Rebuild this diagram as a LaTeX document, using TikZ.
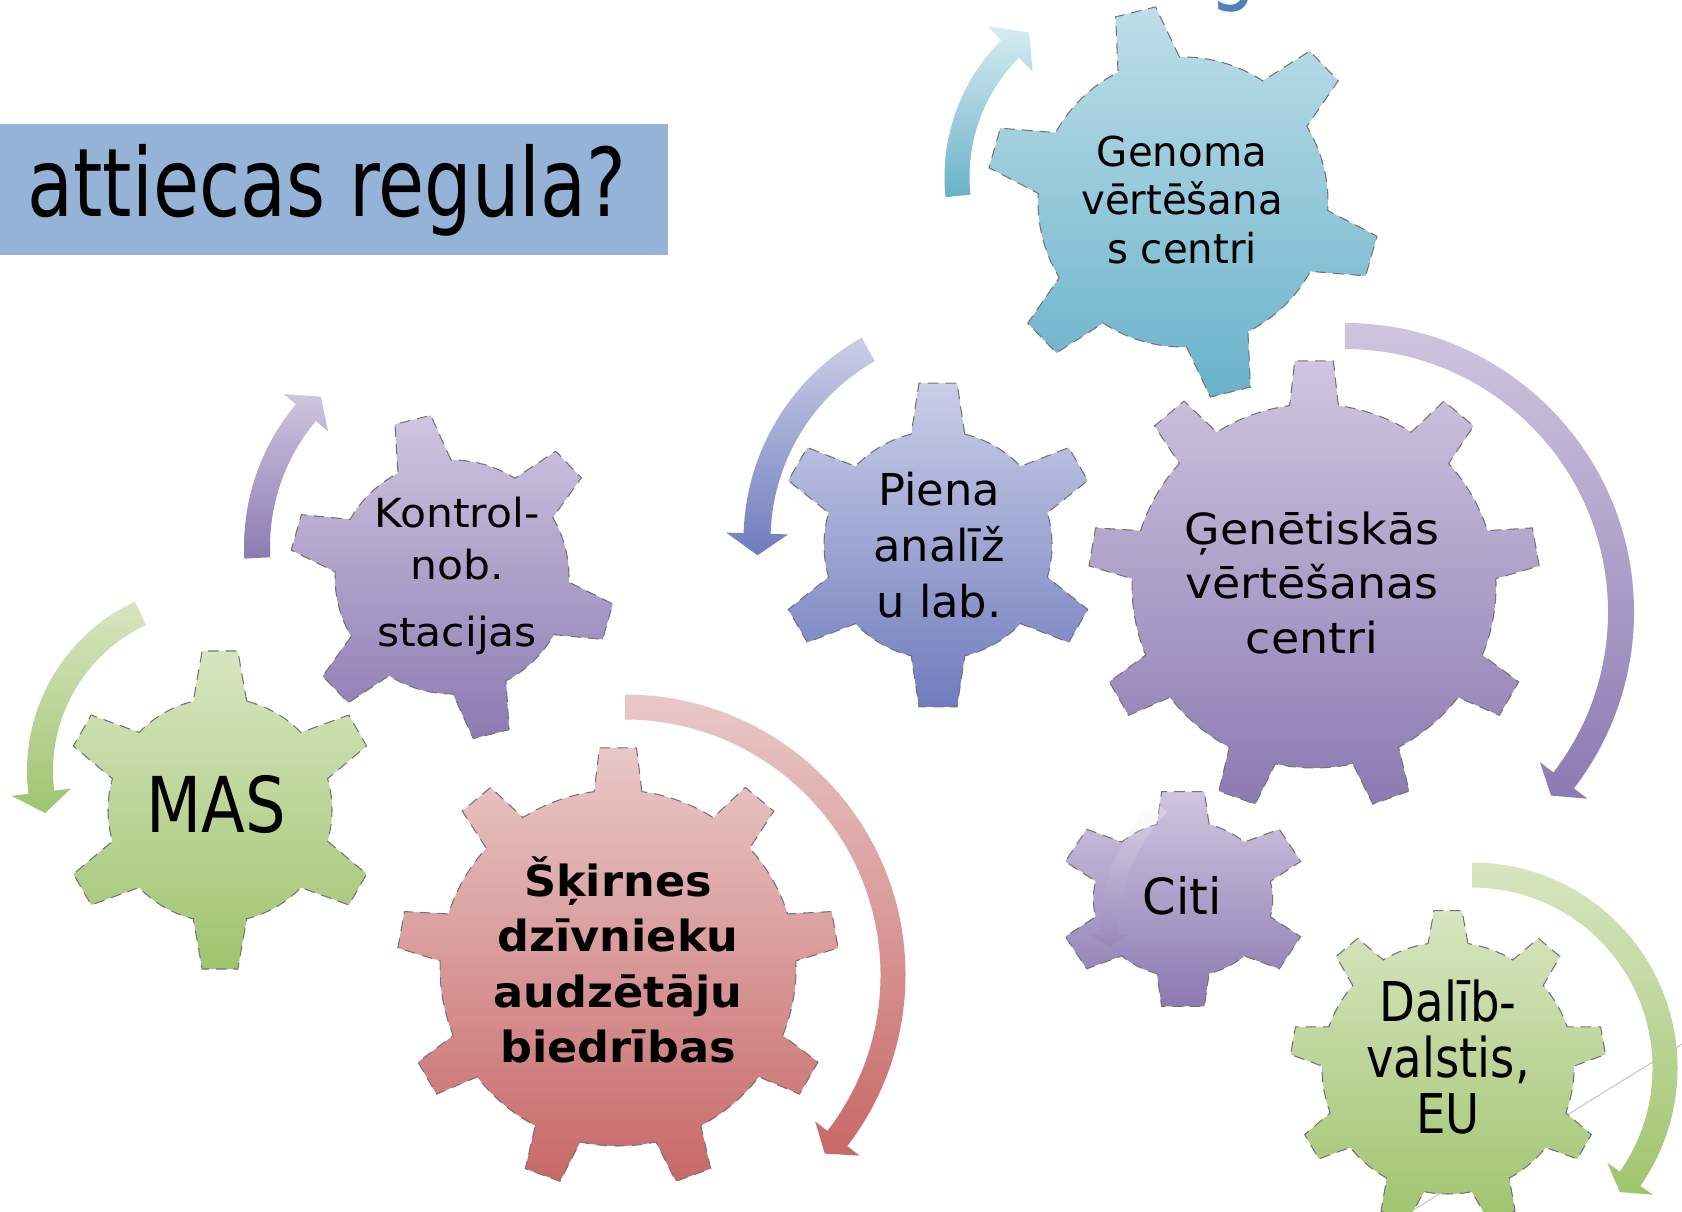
\documentclass[tikz,border=0pt]{standalone}
\usepackage{fontspec}
\setmainfont{DejaVu Sans}
\usepackage{tikz}

\definecolor{titlebg}{RGB}{149,179,215}
\definecolor{headblue}{RGB}{79,129,189}
\definecolor{tealtop}{RGB}{190,222,232}
\definecolor{tealbot}{RGB}{105,178,202}
\definecolor{lilactop}{RGB}{206,198,223}
\definecolor{lilacbot}{RGB}{140,122,178}
\definecolor{greentop}{RGB}{216,229,192}
\definecolor{greenbot}{RGB}{160,196,110}
\definecolor{bluetop}{RGB}{202,206,230}
\definecolor{bluebot}{RGB}{112,124,190}
\definecolor{rosetop}{RGB}{233,200,200}
\definecolor{rosebot}{RGB}{200,104,104}

\newcommand{\drawgear}[8]{%
	\shadedraw[gearline, shift={(#1)}, #8] ({#5-#7}:#3)
		\foreach \k [evaluate=\k as \a using #5+(\k-1)*360/#2,
					evaluate=\k as \s using #5+(\k-1)*360/#2+#7,
					evaluate=\k as \e using #5+\k*360/#2-#7] in {1,...,#2}
		{ -- ({\a-#7}:#3) -- ({\a-#6}:#4) -- ({\a+#6}:#4) -- ({\a+#7}:#3)
			arc[start angle=\s, end angle=\e, radius=#3] } -- cycle;}

\newcommand{\drawturn}[8]{%
	\shade[shift={(#1)}, #8] ({#3}:{#2+#6}) arc[start angle=#3, end angle=#4, radius=#2+#6]
		-- ({#4}:{#2+#7}) -- ({#5}:{#2}) -- ({#4}:{#2-#7}) -- ({#4}:{#2-#6})
		arc[start angle=#4, end angle=#3, radius=#2-#6] -- cycle;}

\begin{document}
\begin{tikzpicture}[x=0.1mm, y=0.1mm,
		gearline/.style={draw=black!55, line width=0.3pt, densely dashed},
		geartext/.style={align=center, inner sep=0pt, transform shape}]
		\useasboundingbox (0,0) rectangle (1682,-1212);
		\clip (0,0) rectangle (1682,-1212);

		\draw[black!22, line width=0.3pt] (1410,-1212) -- (1682,-1044);

		\fill[titlebg] (0,-124) rectangle (668,-255);
		\node[anchor=base west, inner sep=0pt, xscale=0.79, transform shape, font=\fontsize{27}{30}\selectfont] (title) at (27,-217) {attiecas regula?};
		\node[anchor=base, inner sep=0pt, xscale=0.79, transform shape, text=headblue, font=\fontsize{27}{30}\selectfont] (topg) at (1233,7) {g};

		\drawgear{1183,-202}{6}{145}{197}{104}{6}{12.6}{top color=tealtop, bottom color=tealbot}
		\drawgear{452,-577}{6}{117}{163}{104}{6.5}{13.5}{top color=lilactop, bottom color=lilacbot}
		\drawgear{220,-810}{6}{112}{160}{90}{6.4}{13.8}{top color=greentop, bottom color=greenbot}
		\drawgear{938,-545}{6}{114}{163}{90}{6.7}{13.6}{top color=bluetop, bottom color=bluebot}
		\drawgear{1314,-586}{9}{182}{226}{90}{4.9}{7.7}{top color=lilactop, bottom color=lilacbot}
		\drawgear{618,-968}{9}{178}{221}{90}{4.8}{7.7}{top color=rosetop, bottom color=rosebot}
		\drawgear{1183,-899}{6}{78}{109}{90}{9.8}{16.9}{top color=lilactop, bottom color=lilacbot, xscale=1.15}
		\drawgear{1448,-1068}{9}{126}{158}{90}{5.1}{9.1}{top color=greentop, bottom color=greenbot}

		\drawturn{1138,-177}{181}{186}{135}{127}{12.5}{32}{top color=tealtop!60!white, bottom color=tealbot}
		\drawturn{466,-547}{209}{183}{140}{134}{13}{29}{top color=lilactop, bottom color=lilacbot}
		\drawturn{214,-771}{174}{115}{187}{194}{13}{30}{top color=greentop, bottom color=greenbot}
		\drawturn{976,-540}{219}{119.5}{178.3}{184}{13.5}{31}{top color=bluetop, bottom color=bluebot}
		\drawturn{1345,-612}{276}{90}{-37.6}{-41.7}{13}{30}{top color=lilactop, bottom color=lilacbot}
		\drawturn{625,-975}{268}{90}{-37.6}{-41.8}{12.5}{28}{top color=rosetop, bottom color=rosebot}
		\drawturn{1472,-1068}{193}{90}{-35}{-40}{12.5}{28}{top color=greentop, bottom color=greenbot}
		\drawturn{1293,-934}{184}{136}{180}{184}{9}{20}{top color=white, bottom color=lilacbot, opacity=0.3}

		\node[geartext, xscale=0.98, font=\fontsize{11.7}{13.7}\selectfont] (genoma) at (1182,-200) {Genoma\\vērtēšana\\s centri};
		\node[geartext, xscale=1.06, font=\fontsize{11.4}{14.8}\selectfont] (kontrol) at (457,-576) {Kontrol-\\nob.\\[4.3pt]stacijas};
		\node[geartext, xscale=0.83, font=\fontsize{21.9}{24}\selectfont] (mas) at (216,-804) {MAS};
		\node[geartext, xscale=1.02, font=\fontsize{12.5}{15.9}\selectfont] (piena) at (939,-545) {Piena\\analīž\\u lab.};
		\node[geartext, xscale=1.07, font=\fontsize{12.2}{15.4}\selectfont] (genet) at (1312,-583) {Ģenētiskās\\vērtēšanas\\centri};
		\node[geartext, xscale=1.04, font=\bfseries\fontsize{12.2}{15.7}\selectfont] (skirnes) at (618,-960) {Šķirnes\\dzīvnieku\\audzētāju\\biedrības};
		\node[geartext, xscale=0.96, font=\fontsize{14.2}{16}\selectfont] (citi) at (1182,-896) {Citi};
		\node[geartext, xscale=0.85, font=\fontsize{15.6}{15.9}\selectfont] (dalib) at (1448,-1057) {Dalīb-\\valstis,\\EU};
\end{tikzpicture}
\end{document}
